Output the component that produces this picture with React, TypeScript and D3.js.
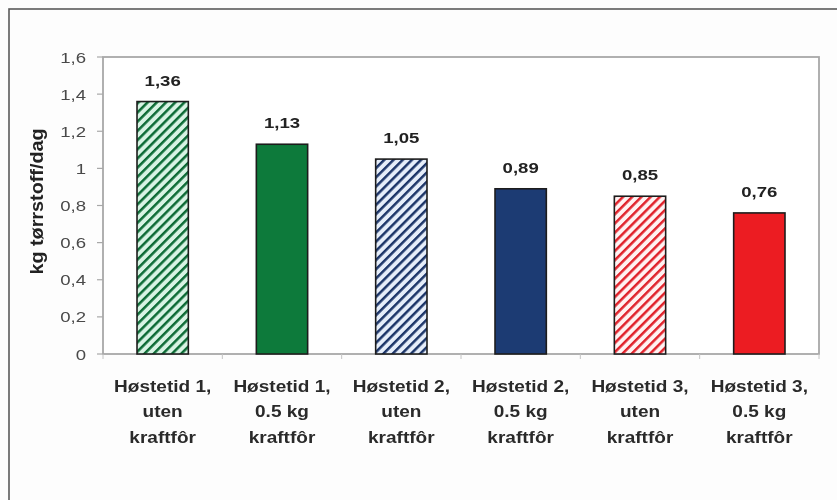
import React from "react";
import * as d3 from "d3";

const categories: string[][] = [
  ["Høstetid 1,", "uten", "kraftfôr"],
  ["Høstetid 1,", "0.5 kg", "kraftfôr"],
  ["Høstetid 2,", "uten", "kraftfôr"],
  ["Høstetid 2,", "0.5 kg", "kraftfôr"],
  ["Høstetid 3,", "uten", "kraftfôr"],
  ["Høstetid 3,", "0.5 kg", "kraftfôr"],
];
const values: number[] = [1.36, 1.13, 1.05, 0.89, 0.85, 0.76];
const valueLabels: string[] = ["1,36", "1,13", "1,05", "0,89", "0,85", "0,76"];
const yTicks: number[] = [0, 0.2, 0.4, 0.6, 0.8, 1, 1.2, 1.4, 1.6];
const yTickLabels: string[] = ["0", "0,2", "0,4", "0,6", "0,8", "1", "1,2", "1,4", "1,6"];
const yTitle = "kg tørrstoff/dag";

// fill style per bar: hatched or solid, with stripe colour and background
const barStyles = [
  { kind: "hatch", stripe: "#0b6b35", bg: "#d8f3e4" },
  { kind: "solid", color: "#0b7a3b" },
  { kind: "hatch", stripe: "#1b3468", bg: "#e6eefa" },
  { kind: "solid", color: "#1a3a73" },
  { kind: "hatch", stripe: "#e0222c", bg: "#fff2f2" },
  { kind: "solid", color: "#ec1c24" },
];

const W = 837;
const H = 500;
const plot = { left: 103, top: 57, right: 819, bottom: 354 };
const FONT = "'Liberation Sans', Arial, sans-serif";

export default function App() {
  const x = d3
    .scaleBand<number>()
    .domain(values.map((_, i) => i))
    .range([plot.left, plot.right])
    .paddingInner(0.57)
    .paddingOuter(0.285);
  const y = d3.scaleLinear().domain([0, 1.6]).range([plot.bottom, plot.top]);
  const boundaries = d3
    .range(values.length + 1)
    .map((i) => plot.left + i * ((plot.right - plot.left) / values.length));
  const cx = (i: number) => x(i)! + x.bandwidth() / 2;

  return (
    <div style={{ position: "absolute", left: 0, top: 0, width: W, height: H, background: "#fff" }}>
      <svg width={W} height={H} style={{ display: "block", fontFamily: FONT }}>
        <defs>
          {barStyles.map((s, i) =>
            s.kind === "hatch" ? (
              <pattern
                key={i}
                id={`hatch${i}`}
                patternUnits="userSpaceOnUse"
                width={6.5}
                height={6.5}
                patternTransform="rotate(45)"
              >
                <rect width={6.5} height={6.5} fill={s.bg} />
                <rect x={0} y={0} width={2.5} height={6.5} fill={s.stripe} />
              </pattern>
            ) : null
          )}
          <filter id="soft" x="-5%" y="-5%" width="110%" height="110%">
            <feGaussianBlur stdDeviation="0.35" />
          </filter>
        </defs>
        <rect width={W} height={H} fill="#fdfdfd" />
        {/* outer frame */}
        <rect x={9} y={9} width={W + 20} height={H + 20} fill="none" stroke="#5a5a5a" strokeWidth={1.6} />

        <g filter="url(#soft)">
          {/* plot area border */}
          <rect
            x={plot.left}
            y={plot.top}
            width={plot.right - plot.left}
            height={plot.bottom - plot.top}
            fill="#fff"
            stroke="#a8a8a8"
            strokeWidth={1.8}
          />
          {/* y ticks and labels */}
          {yTicks.map((t, i) => (
            <g key={t}>
              <line x1={plot.left - 6} x2={plot.left} y1={y(t)} y2={y(t)} stroke="#a8a8a8" strokeWidth={1.2} />
              <text
                transform={`translate(86,${y(t)}) scale(1.2,1)`}
                dy="0.36em"
                textAnchor="end"
                fontSize={15.5}
                fill="#4a4a4a"
              >
                {yTickLabels[i]}
              </text>
            </g>
          ))}
          {/* x ticks at category boundaries */}
          {boundaries.map((b, i) => (
            <line key={i} x1={b} x2={b} y1={plot.bottom} y2={plot.bottom + 5} stroke="#c4c4c4" strokeWidth={1} />
          ))}
          {/* y title */}
          <text
            transform={`translate(43,${(plot.top + plot.bottom) / 2 - 4}) rotate(-90) scale(1.1,1)`}
            textAnchor="middle"
            fontSize={18}
            fontWeight="bold"
            fill="#222"
          >
            {yTitle}
          </text>

          {/* bars */}
          {values.map((v, i) => {
            const s = barStyles[i];
            const fill = s.kind === "hatch" ? `url(#hatch${i})` : (s as any).color;
            return (
              <rect
                key={i}
                x={x(i)!}
                y={y(v)}
                width={x.bandwidth()}
                height={y(0) - y(v)}
                fill={fill}
                stroke="#1e1e1e"
                strokeWidth={1.6}
              />
            );
          })}
          {/* value labels */}
          {values.map((v, i) => (
            <text
              key={i}
              transform={`translate(${cx(i)},${y(v) - 16}) scale(1.2,1)`}
              textAnchor="middle"
              fontSize={15.5}
              fontWeight="bold"
              fill="#222"
            >
              {valueLabels[i]}
            </text>
          ))}
          {/* category labels */}
          {categories.map((lines, i) => (
            <text
              key={i}
              transform={`translate(${cx(i)},0) scale(1.12,1)`}
              textAnchor="middle"
              fontSize={17}
              fontWeight="bold"
              fill="#2a2a2a"
            >
              {lines.map((ln, j) => (
                <tspan key={j} x={0} y={392 + j * 25.5}>
                  {ln}
                </tspan>
              ))}
            </text>
          ))}
        </g>
      </svg>
    </div>
  );
}
